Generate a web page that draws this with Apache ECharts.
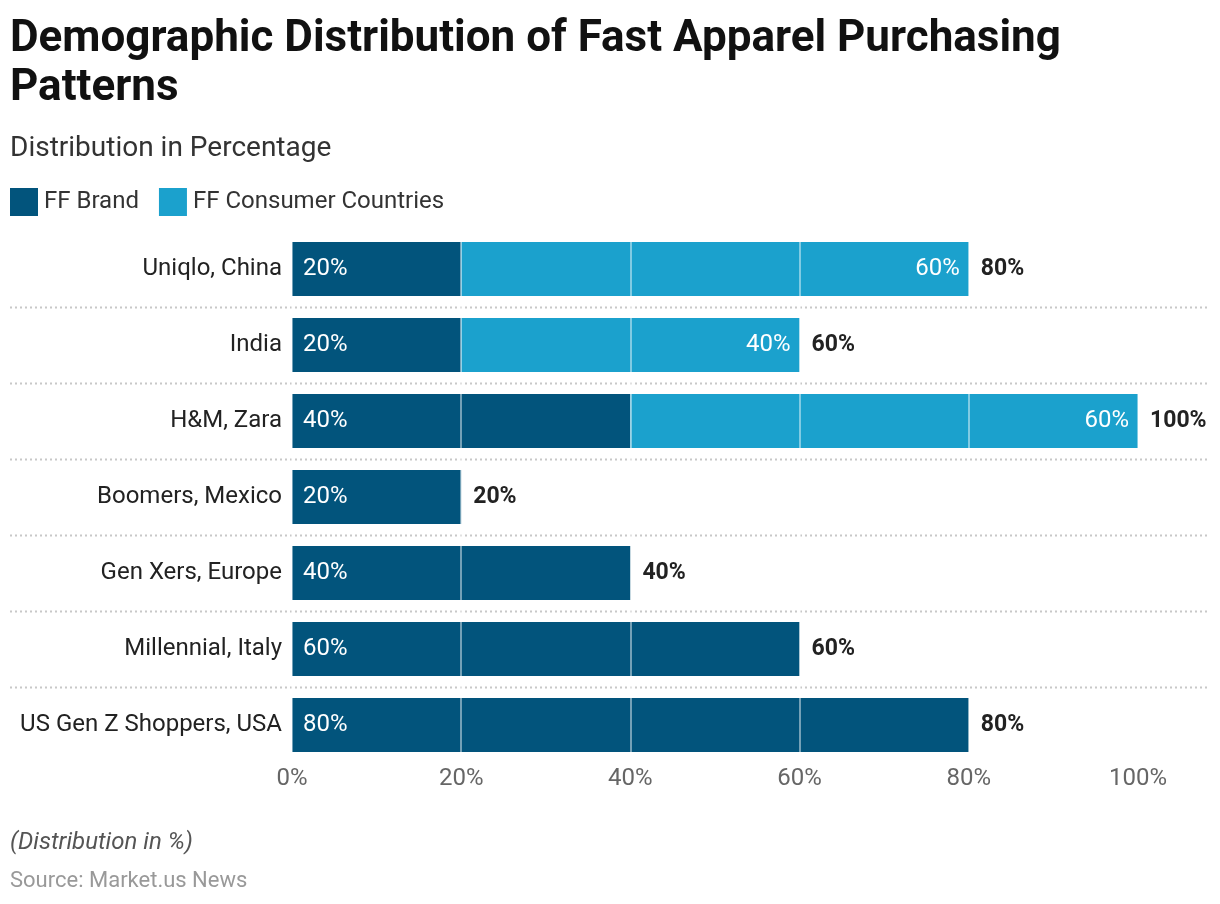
<!DOCTYPE html>
<html><head><meta charset="utf-8">
<script src="https://cdn.jsdelivr.net/npm/echarts@6/dist/echarts.min.js"></script>
<style>html,body{margin:0;padding:0;background:#fff}#c{width:1220px;height:904px}</style>
</head><body><div id="c"></div>
<script>
const categories = ["Uniqlo, China","India","H&M, Zara","Boomers, Mexico","Gen Xers, Europe","Millennial, Italy","US Gen Z Shoppers, USA"];
const brandValues = [20,20,40,20,40,60,80];
const consumerValues = [60,40,60,null,null,null,null];
const xTicks = [0,20,40,60,80,100];
const totals = brandValues.map((v,i)=>v+(consumerValues[i]||0));

const FONT = 'Roboto';
const chart = echarts.init(document.getElementById('c'));
const option = {
  animation:false,
  textStyle:{fontFamily:FONT},
  title:[
    {text:'Demographic Distribution of Fast Apparel Purchasing\nPatterns',left:5,top:10,
     textStyle:{fontFamily:FONT,fontSize:44,fontWeight:'bold',color:'#111',lineHeight:49}},
    {text:'Distribution in Percentage',left:5,top:130,textStyle:{fontFamily:FONT,fontSize:28,fontWeight:'normal',color:'#333'}},
    {text:'(Distribution in %)',left:5,top:826,textStyle:{fontFamily:FONT,fontSize:24,fontStyle:'italic',fontWeight:'normal',color:'#555'}},
    {text:'Source: Market.us News',left:5,top:865,textStyle:{fontFamily:FONT,fontSize:22,fontWeight:'normal',color:'#999'}}
  ],
  legend:{left:5,top:183,itemWidth:28,itemHeight:28,itemGap:20,icon:'rect',
    textStyle:{fontFamily:FONT,fontSize:24,color:'#333',padding:[0,0,0,1]},
    data:['FF Brand','FF Consumer Countries']},
  grid:{left:292,right:82,top:231,bottom:141,containLabel:false},
  xAxis:{type:'value',min:0,max:100,interval:20,z:5,
    axisLine:{show:false},axisTick:{show:false},
    splitLine:{show:true,lineStyle:{color:'rgba(255,255,255,0.45)',width:2}},
    axisLabel:{formatter:v=>xTicks.includes(v)?v+'%':'',fontFamily:FONT,fontSize:24,color:'#666',margin:4}},
  yAxis:{type:'category',data:categories,inverse:true,
    axisLine:{show:false},axisTick:{show:false},splitLine:{show:false},
    axisLabel:{fontFamily:FONT,fontSize:24,color:'#222',margin:10}},
  series:[
    {name:'FF Brand',type:'bar',stack:'s',data:brandValues,barWidth:54,
     itemStyle:{color:'#02547C'},
     label:{show:true,position:'insideLeft',distance:11,formatter:'{c}%',color:'#fff',fontFamily:FONT,fontSize:24}},
    {name:'FF Consumer Countries',type:'bar',stack:'s',data:consumerValues,barWidth:54,
     itemStyle:{color:'#1BA1CD'},
     label:{show:true,position:'insideRight',distance:9,formatter:'{c}%',color:'#fff',fontFamily:FONT,fontSize:24}},
    {name:'total',type:'scatter',symbolSize:0,silent:true,itemStyle:{opacity:1},
     data:totals.map((t,i)=>[t,i]),
     label:{show:true,position:'right',distance:12,formatter:p=>totals[p.dataIndex]+'%',color:'#222',fontFamily:FONT,fontSize:23,fontWeight:'bold'}}
  ]
};
chart.setOption(option);
// dotted separators between categories
const seps=[];
for(let i=0;i<categories.length-1;i++){
  const y1=chart.convertToPixel({yAxisIndex:0},i);
  const y2=chart.convertToPixel({yAxisIndex:0},i+1);
  const y=Math.round((y1+y2)/2)+0.5;
  seps.push({type:'line',shape:{x1:10,y1:y,x2:1208,y2:y},z:-1,
    style:{stroke:'#c8c8c8',lineWidth:2,lineDash:[2,3]}});
}
chart.setOption({graphic:seps});
</script></body></html>
